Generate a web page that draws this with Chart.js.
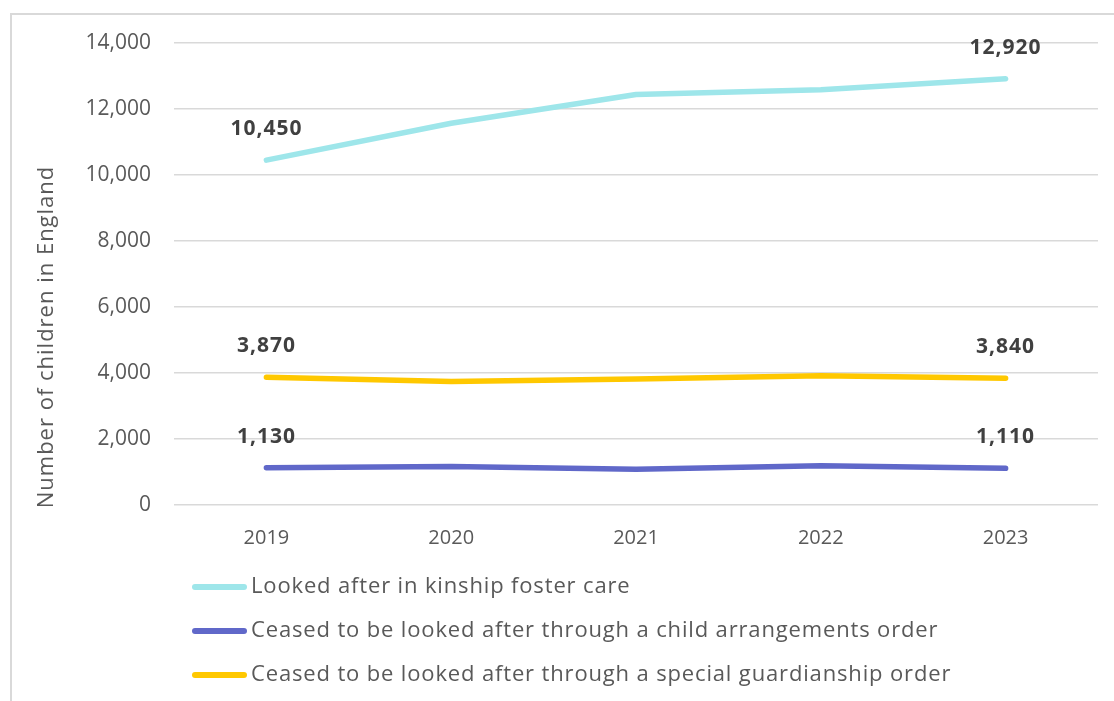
<!DOCTYPE html>
<html>
<head>
    <title>Children in kinship care, England</title>
    <script src="https://cdn.jsdelivr.net/npm/chart.js"></script>
    <style>
        body { margin: 0; background: #fff; }
        #wrap { width: 1114px; height: 701px; position: relative; }
    </style>
</head>
<body>
    <div id="wrap"><canvas id="kinChart" width="1114" height="701"></canvas></div>

    <script>
        const years = ['2019', '2020', '2021', '2022', '2023'];
        const kinshipFoster = [10450, 11570, 12440, 12580, 12920];
        const childArrangements = [1130, 1170, 1080, 1190, 1110];
        const specialGuardianship = [3870, 3740, 3820, 3920, 3840];
        const seriesNames = [
            'Looked after in kinship foster care',
            'Ceased to be looked after through a child arrangements order',
            'Ceased to be looked after through a special guardianship order'
        ];
        const yTicks = [0, 2000, 4000, 6000, 8000, 10000, 12000, 14000];
        const yTitle = 'Number of children in England';

        const fontName = '"Open Sans", Lato, sans-serif';

        // frame, axis title, end labels and the stacked legend
        const extras = {
            id: 'extras',
            beforeDraw(chart) {
                const ctx = chart.ctx;
                ctx.save();
                ctx.strokeStyle = '#d9d9d9';
                ctx.lineWidth = 2;
                ctx.strokeRect(11, 14, 1120, 720);
                ctx.translate(47, 337);
                ctx.rotate(-Math.PI / 2);
                ctx.font = '22px ' + fontName;
                ctx.letterSpacing = '1px';
                ctx.fillStyle = '#595959';
                ctx.textAlign = 'center';
                ctx.textBaseline = 'middle';
                ctx.fillText(yTitle, 0, 0);
                ctx.restore();
            },
            afterDatasetsDraw(chart) {
                const ctx = chart.ctx;
                ctx.save();
                ctx.font = 'bold 21px ' + fontName;
                ctx.letterSpacing = '1px';
                ctx.fillStyle = '#404040';
                ctx.textAlign = 'center';
                ctx.textBaseline = 'middle';
                chart.data.datasets.forEach((ds, i) => {
                    const pts = chart.getDatasetMeta(i).data;
                    [0, pts.length - 1].forEach(j => {
                        ctx.fillText(ds.data[j].toLocaleString('en-GB'), pts[j].x, pts[j].y - 31);
                    });
                });

                ctx.font = '22px ' + fontName;
                ctx.letterSpacing = '0.85px';
                ctx.fillStyle = '#595959';
                ctx.textAlign = 'left';
                ctx.lineCap = 'round';
                ctx.lineWidth = 6;
                chart.data.datasets.forEach((ds, i) => {
                    const y = 587 + i * 44;
                    ctx.strokeStyle = ds.borderColor;
                    ctx.beginPath();
                    ctx.moveTo(195, y);
                    ctx.lineTo(244, y);
                    ctx.stroke();
                    ctx.fillText(ds.label, 251, y);
                });
                ctx.restore();
            }
        };

        new Chart(document.getElementById('kinChart'), {
            type: 'line',
            data: {
                labels: years,
                datasets: [
                    { label: seriesNames[0], data: kinshipFoster, borderColor: '#9ee6ea' },
                    { label: seriesNames[1], data: childArrangements, borderColor: '#6068c9' },
                    { label: seriesNames[2], data: specialGuardianship, borderColor: '#ffc800' }
                ]
            },
            options: {
                responsive: false,
                animation: false,
                layout: { padding: { top: 43, right: 16, left: 0, bottom: 0 } },
                elements: {
                    line: { borderWidth: 5.5, borderCapStyle: 'round', borderJoinStyle: 'round', tension: 0 },
                    point: { radius: 0, hoverRadius: 0 }
                },
                plugins: {
                    legend: { display: false },
                    tooltip: { enabled: false }
                },
                scales: {
                    x: {
                        offset: true,
                        grid: { display: false },
                        border: { display: false },
                        ticks: { color: '#595959', font: { family: fontName, size: 20 }, padding: 13 },
                        afterFit: s => { s.height = 196; }
                    },
                    y: {
                        min: 0,
                        max: 14000,
                        afterBuildTicks: s => { s.ticks = yTicks.map(v => ({ value: v })); },
                        grid: { color: '#d9d9d9', lineWidth: 1.5, drawTicks: false },
                        border: { display: false },
                        ticks: {
                            color: '#595959',
                            font: { family: fontName, size: 21 },
                            padding: 23,
                            callback: v => v.toLocaleString('en-GB')
                        },
                        afterFit: s => { s.width = 174; }
                    }
                }
            },
            plugins: [extras]
        });
    </script>
</body>
</html>
